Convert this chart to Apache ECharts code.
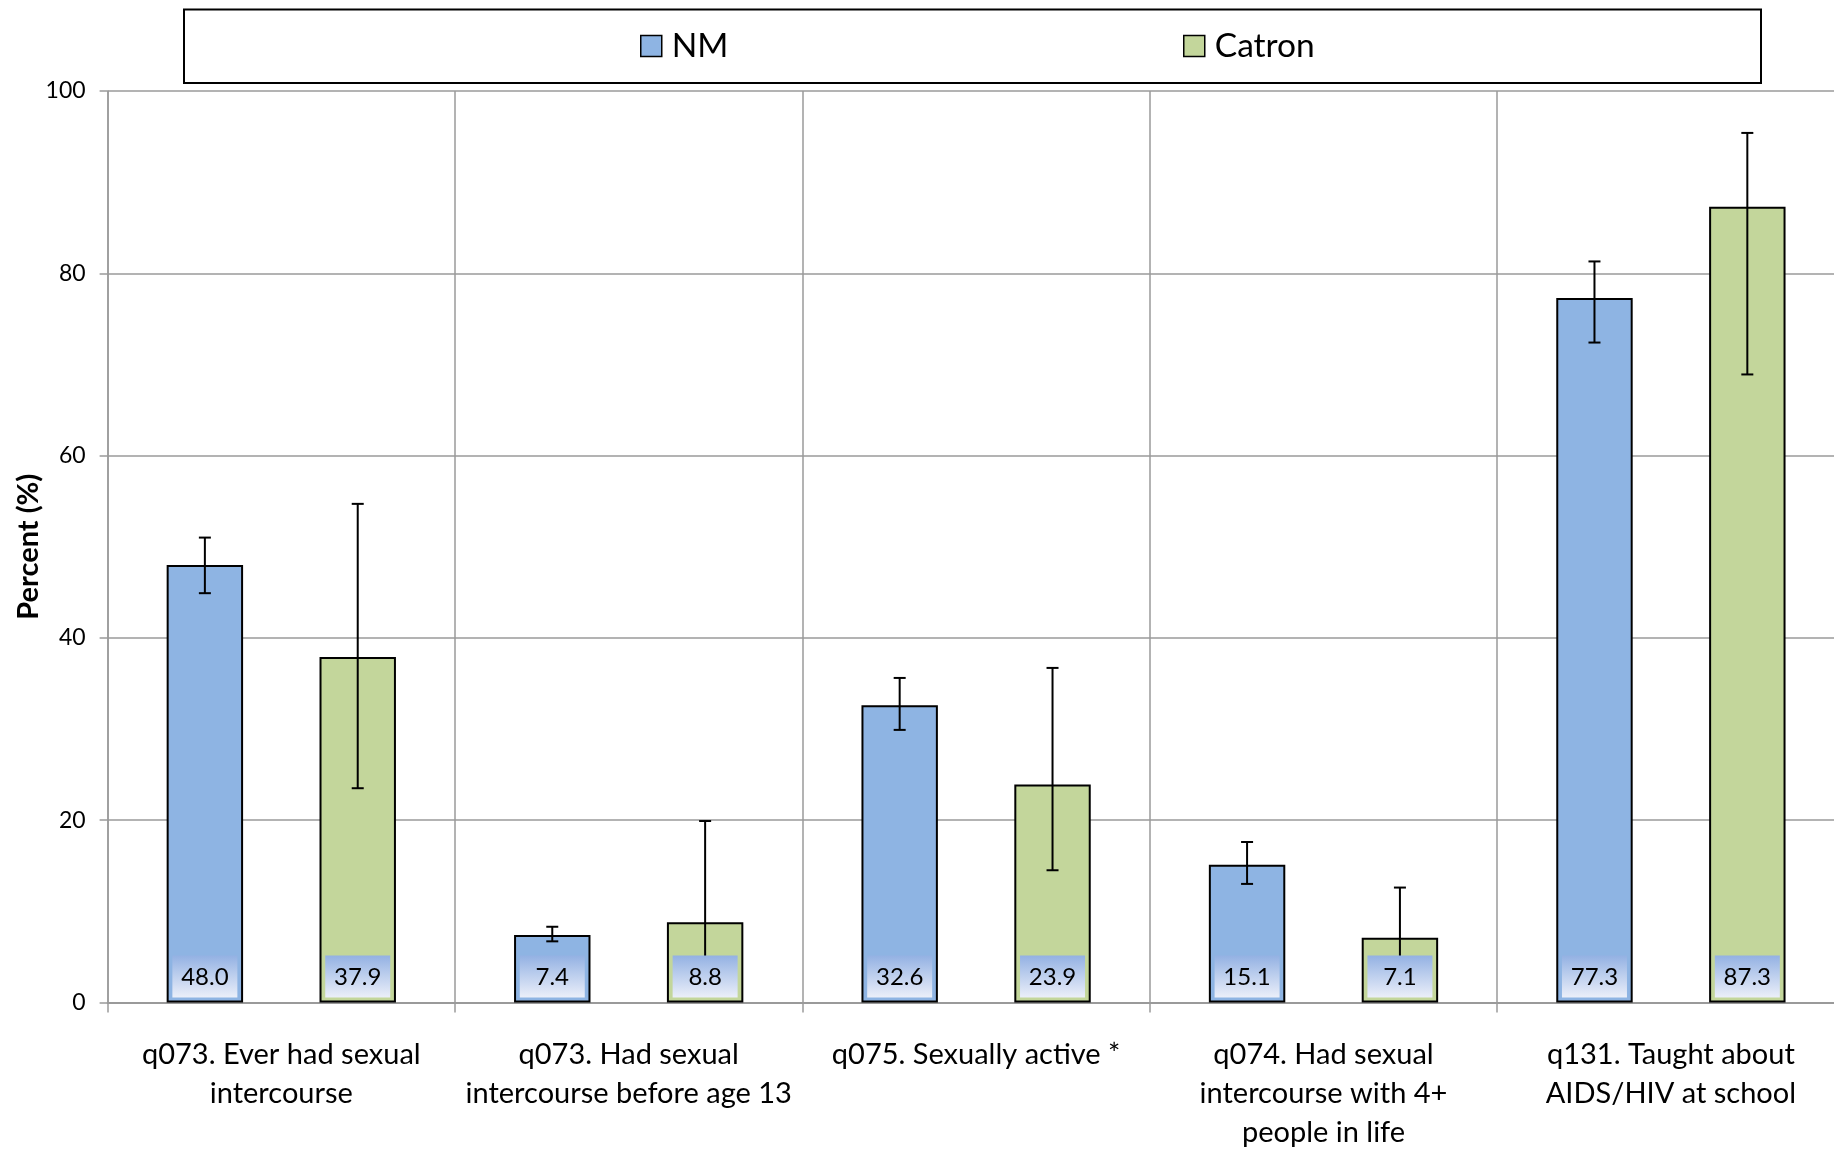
<!DOCTYPE html>
<html>
<head>
<meta charset="utf-8">
<script src="https://cdn.jsdelivr.net/npm/echarts@6/dist/echarts.min.js"></script>
<style>
html,body{margin:0;padding:0;background:#fff;}
#main{width:1834px;height:1150px;}
</style>
</head>
<body>
<div id="main"></div>
<script>
const categories = [
  'q073. Ever had sexual\nintercourse',
  'q073. Had sexual\nintercourse before age 13',
  'q075. Sexually active *',
  'q074. Had sexual\nintercourse with 4+\npeople in life',
  'q131. Taught about\nAIDS/HIV at school'
];
const seriesNames = ['NM', 'Catron'];
const nmValues = [48.0, 7.4, 32.6, 15.1, 77.3];
const catronValues = [37.9, 8.8, 23.9, 7.1, 87.3];
const nmLower = [44.9, 6.7, 29.9, 13.0, 72.4];
const nmUpper = [51.0, 8.3, 35.6, 17.6, 81.3];
const catronLower = [23.5, 2.0, 14.5, 2.0, 68.9];
const catronUpper = [54.7, 19.9, 36.7, 12.6, 95.4];
const yMin = 0, yMax = 100, yStep = 20;

const FONT = 'Lato';
const GRIDC = '#9a9a9a';

function errData(lower, upper, values) {
  return values.map((v, i) => [i, lower[i], upper[i], v]);
}

function makeRender(sign) {
  return function (params, api) {
    const idx = api.value(0);
    const band = api.size([1, 0])[0];
    const off = sign * band * 0.22;
    const lo = api.coord([idx, api.value(1)]);
    const hi = api.coord([idx, api.value(2)]);
    const base = api.coord([idx, 0]);
    const x = lo[0] + off;
    const cap = 6;
    const ls = { stroke: '#000', lineWidth: 2 };
    const bw = 65, bh = 42;
    return {
      type: 'group',
      children: [
        { type: 'line', shape: { x1: x, y1: hi[1], x2: x, y2: lo[1] }, style: ls },
        { type: 'line', shape: { x1: x - cap, y1: hi[1], x2: x + cap, y2: hi[1] }, style: ls },
        { type: 'line', shape: { x1: x - cap, y1: lo[1], x2: x + cap, y2: lo[1] }, style: ls },
        {
          type: 'rect',
          shape: { x: x - bw / 2, y: base[1] - 5 - bh, width: bw, height: bh },
          style: {
            fill: new echarts.graphic.LinearGradient(0, 0, 0, 1, [
              { offset: 0, color: '#93B1E3' },
              { offset: 1, color: '#EBEFF9' }
            ])
          }
        },
        {
          type: 'text',
          style: {
            text: api.value(3).toFixed(1),
            x: x, y: base[1] - 5 - bh / 2 + 1,
            align: 'center', verticalAlign: 'middle',
            fontFamily: FONT, fontSize: 24, fill: '#000'
          }
        }
      ]
    };
  };
}

const chart = echarts.init(document.getElementById('main'), null, { renderer: 'canvas' });
const legendCommon = {
  orient: 'horizontal',
  itemWidth: 21, itemHeight: 21,
  itemGap: 10,
  icon: 'rect',
  top: 24,
  textStyle: { fontFamily: FONT, fontSize: 33.5, color: '#000', padding: [0, 0, 0, 5] },
  itemStyle: { borderColor: '#000', borderWidth: 1.5 }
};
chart.setOption({
  animation: false,
  backgroundColor: '#fff',
  graphic: [{
    type: 'rect',
    shape: { x: 184, y: 9.5, width: 1577, height: 73.5 },
    style: { fill: 'none', stroke: '#000', lineWidth: 2 },
    z: 0
  }],
  legend: [
    Object.assign({}, legendCommon, { data: [seriesNames[0]], left: 635 }),
    Object.assign({}, legendCommon, { data: [seriesNames[1]], left: 1178 })
  ],
  grid: {
    left: 107.6, width: 1737, top: 91, bottom: 147.6,
    containLabel: false, outerBoundsMode: 'none'
  },
  xAxis: {
    type: 'category',
    data: categories,
    boundaryGap: true,
    axisLine: { show: true, lineStyle: { color: GRIDC, width: 2 } },
    axisTick: { show: true, length: 10, alignWithLabel: false, lineStyle: { color: GRIDC, width: 1.5 } },
    splitLine: { show: true, lineStyle: { color: GRIDC, width: 1.5 } },
    axisLabel: {
      interval: 0, fontFamily: FONT, fontSize: 29, lineHeight: 39,
      color: '#000', margin: 33
    }
  },
  yAxis: {
    type: 'value',
    min: yMin, max: yMax, interval: yStep,
    name: 'Percent (%)',
    nameLocation: 'middle',
    nameGap: 64,
    nameMoveOverlap: false,
    nameTextStyle: { fontFamily: FONT, fontSize: 29, fontWeight: 'bold', color: '#000' },
    axisLine: { show: true, lineStyle: { color: GRIDC, width: 1.5 } },
    axisTick: { show: true, length: 8, lineStyle: { color: GRIDC, width: 1.5 } },
    splitLine: { show: true, lineStyle: { color: GRIDC, width: 1.5 } },
    axisLabel: { fontFamily: FONT, fontSize: 23, color: '#000', margin: 22 }
  },
  series: [
    {
      name: seriesNames[0], type: 'bar', data: nmValues,
      barWidth: '22%', barGap: '100%',
      itemStyle: { color: '#8EB4E3', borderColor: '#000', borderWidth: 2 },
      z: 2
    },
    {
      name: seriesNames[1], type: 'bar', data: catronValues,
      barWidth: '22%', barGap: '100%',
      itemStyle: { color: '#C3D69B', borderColor: '#000', borderWidth: 2 },
      z: 2
    },
    {
      name: 'NM error', type: 'custom', z: 3,
      renderItem: makeRender(-1),
      data: errData(nmLower, nmUpper, nmValues),
      encode: { x: 0, y: [1, 2] }
    },
    {
      name: 'Catron error', type: 'custom', z: 3,
      renderItem: makeRender(1),
      data: errData(catronLower, catronUpper, catronValues),
      encode: { x: 0, y: [1, 2] }
    }
  ]
});
</script>
</body>
</html>
